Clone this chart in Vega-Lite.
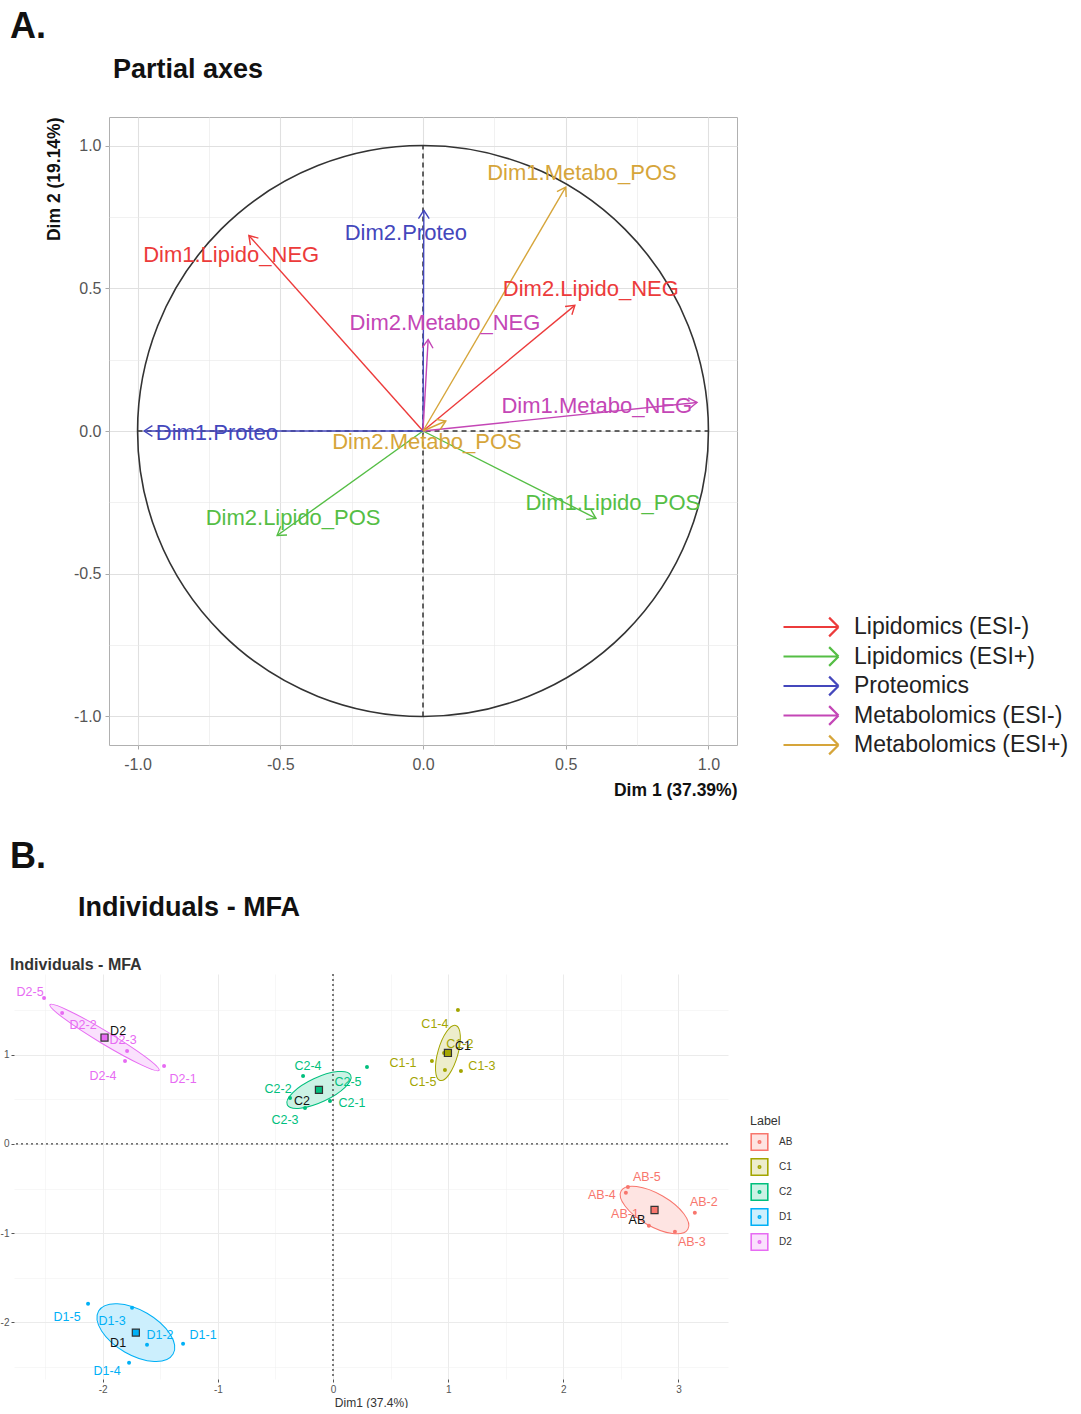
{
  "$schema": "https://vega.github.io/schema/vega-lite/v6.json",
  "padding": {"left": 0, "top": 8, "right": 0, "bottom": 0},
  "spacing": 40,
  "config": {
    "font": "Liberation Sans",
    "view": {"stroke": null},
    "title": {"anchor": "start", "color": "#111", "fontWeight": "bold"}
  },
  "resolve": {"scale": {"x": "independent", "y": "independent", "color": "independent", "fill": "independent", "stroke": "independent"}, "legend": {"color": "independent", "fill": "independent", "stroke": "independent"}},
  "datasets": {
    "axesA": [
      {"name": "Dim1.Lipido_NEG", "grp": "Lipidomics (ESI-)", "x": -0.61, "y": 0.685, "lx": -0.672, "ly": 0.615},
      {"name": "Dim2.Lipido_NEG", "grp": "Lipidomics (ESI-)", "x": 0.532, "y": 0.44, "lx": 0.588, "ly": 0.496},
      {"name": "Dim1.Lipido_POS", "grp": "Lipidomics (ESI+)", "x": 0.606, "y": -0.306, "lx": 0.665, "ly": -0.253},
      {"name": "Dim2.Lipido_POS", "grp": "Lipidomics (ESI+)", "x": -0.511, "y": -0.366, "lx": -0.455, "ly": -0.306},
      {"name": "Dim1.Proteo", "grp": "Proteomics", "x": -0.977, "y": 0.0, "lx": -0.722, "ly": -0.007},
      {"name": "Dim2.Proteo", "grp": "Proteomics", "x": 0.003, "y": 0.773, "lx": -0.06, "ly": 0.692},
      {"name": "Dim1.Metabo_NEG", "grp": "Metabolomics (ESI-)", "x": 0.96, "y": 0.1, "lx": 0.609, "ly": 0.088},
      {"name": "Dim2.Metabo_NEG", "grp": "Metabolomics (ESI-)", "x": 0.018, "y": 0.32, "lx": 0.077, "ly": 0.38},
      {"name": "Dim1.Metabo_POS", "grp": "Metabolomics (ESI+)", "x": 0.5, "y": 0.854, "lx": 0.557, "ly": 0.903},
      {"name": "Dim2.Metabo_POS", "grp": "Metabolomics (ESI+)", "x": 0.08, "y": 0.035, "lx": 0.014, "ly": -0.039}
    ],
    "indiv": [
      {"name": "AB-1", "grp": "AB", "x": 2.743, "y": -0.918, "lx": 2.535, "ly": -0.784},
      {"name": "AB-2", "grp": "AB", "x": 3.142, "y": -0.773, "lx": 3.22, "ly": -0.65},
      {"name": "AB-3", "grp": "AB", "x": 2.969, "y": -0.985, "lx": 3.116, "ly": -1.097},
      {"name": "AB-4", "grp": "AB", "x": 2.543, "y": -0.549, "lx": 2.335, "ly": -0.571},
      {"name": "AB-5", "grp": "AB", "x": 2.561, "y": -0.482, "lx": 2.726, "ly": -0.37},
      {"name": "C1-1", "grp": "C1", "x": 0.859, "y": 0.929, "lx": 0.608, "ly": 0.907},
      {"name": "C1-2", "grp": "C1", "x": 0.964, "y": 1.019, "lx": 1.102, "ly": 1.12},
      {"name": "C1-3", "grp": "C1", "x": 1.111, "y": 0.818, "lx": 1.293, "ly": 0.873},
      {"name": "C1-4", "grp": "C1", "x": 1.085, "y": 1.501, "lx": 0.885, "ly": 1.344},
      {"name": "C1-5", "grp": "C1", "x": 0.972, "y": 0.829, "lx": 0.781, "ly": 0.694},
      {"name": "C2-1", "grp": "C2", "x": -0.026, "y": 0.481, "lx": 0.165, "ly": 0.459},
      {"name": "C2-2", "grp": "C2", "x": -0.373, "y": 0.515, "lx": -0.477, "ly": 0.616},
      {"name": "C2-3", "grp": "C2", "x": -0.243, "y": 0.403, "lx": -0.417, "ly": 0.269},
      {"name": "C2-4", "grp": "C2", "x": -0.26, "y": 0.761, "lx": -0.217, "ly": 0.873},
      {"name": "C2-5", "grp": "C2", "x": 0.295, "y": 0.862, "lx": 0.13, "ly": 0.694},
      {"name": "D1-1", "grp": "D1", "x": -1.302, "y": -2.24, "lx": -1.128, "ly": -2.139},
      {"name": "D1-2", "grp": "D1", "x": -1.615, "y": -2.251, "lx": -1.502, "ly": -2.139},
      {"name": "D1-3", "grp": "D1", "x": -1.745, "y": -1.837, "lx": -1.918, "ly": -1.982},
      {"name": "D1-4", "grp": "D1", "x": -1.771, "y": -2.453, "lx": -1.962, "ly": -2.542},
      {"name": "D1-5", "grp": "D1", "x": -2.127, "y": -1.792, "lx": -2.309, "ly": -1.937},
      {"name": "D2-1", "grp": "D2", "x": -1.467, "y": 0.873, "lx": -1.302, "ly": 0.728},
      {"name": "D2-2", "grp": "D2", "x": -2.352, "y": 1.467, "lx": -2.17, "ly": 1.333},
      {"name": "D2-3", "grp": "D2", "x": -1.788, "y": 1.041, "lx": -1.823, "ly": 1.165},
      {"name": "D2-4", "grp": "D2", "x": -1.806, "y": 0.929, "lx": -1.997, "ly": 0.761},
      {"name": "D2-5", "grp": "D2", "x": -2.509, "y": 1.635, "lx": -2.63, "ly": 1.702}
    ],
    "centroids": [
      {"name": "AB", "grp": "AB", "x": 2.792, "y": -0.741, "lx": 2.639, "ly": -0.851},
      {"name": "C1", "grp": "C1", "x": 0.998, "y": 1.019, "lx": 1.128, "ly": 1.097},
      {"name": "C2", "grp": "C2", "x": -0.122, "y": 0.605, "lx": -0.269, "ly": 0.482},
      {"name": "D1", "grp": "D1", "x": -1.712, "y": -2.115, "lx": -1.866, "ly": -2.228},
      {"name": "D2", "grp": "D2", "x": -1.984, "y": 1.192, "lx": -1.866, "ly": 1.265}
    ]
  },
  "vconcat": [
    {
      "title": {"text": "A.", "fontSize": 36, "frame": "bounds", "dx": -4, "offset": 10},
      "spacing": 0,
      "resolve": {"scale": {"color": "independent", "fill": "independent", "stroke": "independent"}, "legend": {"color": "independent"}},
      "hconcat": [
        {
          "width": 30,
          "height": 10,
          "data": {"values": []},
          "mark": "point"
        },
        {
          "title": {"text": "Partial axes", "fontSize": 27, "frame": "group", "dx": 4, "offset": 33},
          "width": 628,
          "height": 628,
          "view": {"stroke": "#b0b0b0"},
          "resolve": {"axis": {"x": "independent", "y": "independent"}},
          "layer": [
            {
              "data": {"values": [{"x": 0, "y": 0}]},
              "mark": {"type": "point", "shape": "circle", "size": 325900, "filled": false, "stroke": "#333", "strokeWidth": 1.6, "opacity": 1},
              "encoding": {
                "x": {"field": "x", "type": "quantitative", "scale": {"domain": [-1.1, 1.1], "nice": false, "zero": false},
                  "axis": {"orient": "bottom", "title": "Dim 1 (37.39%)", "titleAnchor": "end", "titleFontSize": 17.5, "titleFontWeight": "bold", "titleColor": "#111", "titlePadding": 9,
                    "values": [-1, -0.5, 0, 0.5, 1],
                    "labelExpr": "replace(format(datum.value, '.1f'), '\u2212', '-')",
                    "labelFontSize": 16, "labelColor": "#555", "labelPadding": 7, "domain": false, "tickColor": "#aaa", "tickSize": 4,
                    "grid": true, "gridColor": "#e0e0e0", "gridWidth": 1.1, "zindex": 0}},
                "y": {"field": "y", "type": "quantitative", "scale": {"domain": [-1.1, 1.1], "nice": false, "zero": false},
                  "axis": {"orient": "left", "title": "Dim 2 (19.14%)", "titleAnchor": "end", "titleFontSize": 17.5, "titleFontWeight": "bold", "titleColor": "#111", "titlePadding": 10,
                    "values": [-1, -0.5, 0, 0.5, 1],
                    "labelExpr": "replace(format(datum.value, '.1f'), '\u2212', '-')",
                    "labelFontSize": 16, "labelColor": "#555", "labelPadding": 4, "domain": false, "tickColor": "#aaa", "tickSize": 4,
                    "grid": true, "gridColor": "#e0e0e0", "gridWidth": 1.1, "zindex": 0}}
              }
            },
            {
              "data": {"values": [{"x": 0, "y": -1, "y2": 1}]},
              "mark": {"type": "rule", "strokeDash": [5, 4], "color": "#333", "strokeWidth": 1.5},
              "encoding": {
                "x": {"field": "x", "type": "quantitative", "scale": {"domain": [-1.1, 1.1], "nice": false, "zero": false},
                  "axis": {"orient": "bottom", "title": null, "values": [-0.75, -0.25, 0.25, 0.75], "labels": false, "ticks": false, "domain": false, "grid": true, "gridColor": "#e8e8e8", "gridWidth": 0.6, "zindex": 0}},
                "y": {"field": "y", "type": "quantitative", "scale": {"domain": [-1.1, 1.1], "nice": false, "zero": false},
                  "axis": {"orient": "left", "title": null, "values": [-0.75, -0.25, 0.25, 0.75], "labels": false, "ticks": false, "domain": false, "grid": true, "gridColor": "#e8e8e8", "gridWidth": 0.6, "zindex": 0}},
                "y2": {"field": "y2"}
              }
            },
            {
              "data": {"values": [{"x": -1, "x2": 1, "y": 0}]},
              "mark": {"type": "rule", "strokeDash": [5, 4], "color": "#333", "strokeWidth": 1.5},
              "encoding": {
                "x": {"field": "x", "type": "quantitative", "scale": {"domain": [-1.1, 1.1], "nice": false, "zero": false}, "axis": null},
                "x2": {"field": "x2"},
                "y": {"field": "y", "type": "quantitative", "scale": {"domain": [-1.1, 1.1], "nice": false, "zero": false}, "axis": null}
              }
            },
            {
              "data": {"name": "axesA"},
              "mark": {"type": "rule", "strokeWidth": 1.4},
              "encoding": {
                "x": {"field": "x", "type": "quantitative", "scale": {"domain": [-1.1, 1.1], "nice": false, "zero": false}, "axis": null},
                "y": {"field": "y", "type": "quantitative", "scale": {"domain": [-1.1, 1.1], "nice": false, "zero": false}, "axis": null},
                "x2": {"datum": 0},
                "y2": {"datum": 0},
                "color": {"field": "grp", "type": "nominal",
                  "scale": {"domain": ["Lipidomics (ESI-)", "Lipidomics (ESI+)", "Proteomics", "Metabolomics (ESI-)", "Metabolomics (ESI+)"], "range": ["#EC3B3B", "#55BE45", "#4447BC", "#C446B6", "#D6A53A"]},
                  "legend": {"title": null, "orient": "none", "legendX": 688, "legendY": 496, "symbolType": "M-2.2,0L2.2,0M1.45,-0.75L2.2,0M2.2,0L1.45,0.75", "symbolSize": 625, "symbolStrokeWidth": 2.2, "symbolFillColor": "transparent", "labelFontSize": 23, "labelColor": "#222", "labelOffset": 29, "rowPadding": 1.5, "labelLimit": 400}}
              }
            },
            {
              "data": {"name": "axesA"},
              "transform": [{"calculate": "atan2(datum.x, datum.y) * 180 / PI", "as": "ang"}],
              "mark": {"type": "point", "shape": "M-0.55,0.85L0,0L0.55,0.85", "filled": false, "size": 380, "strokeWidth": 1.4, "opacity": 1},
              "encoding": {
                "x": {"field": "x", "type": "quantitative", "scale": {"domain": [-1.1, 1.1], "nice": false, "zero": false}, "axis": null},
                "y": {"field": "y", "type": "quantitative", "scale": {"domain": [-1.1, 1.1], "nice": false, "zero": false}, "axis": null},
                "angle": {"field": "ang", "type": "quantitative", "scale": null},
                "color": {"field": "grp", "type": "nominal", "legend": null}
              }
            },
            {
              "data": {"name": "axesA"},
              "mark": {"type": "text", "fontSize": 22, "align": "center", "baseline": "middle"},
              "encoding": {
                "x": {"field": "lx", "type": "quantitative", "scale": {"domain": [-1.1, 1.1], "nice": false, "zero": false}, "axis": null},
                "y": {"field": "ly", "type": "quantitative", "scale": {"domain": [-1.1, 1.1], "nice": false, "zero": false}, "axis": null},
                "text": {"field": "name"},
                "color": {"field": "grp", "type": "nominal", "legend": null}
              }
            }
          ]
        }
      ]
    },
    {
      "title": {"text": "B.", "fontSize": 36, "frame": "bounds", "dx": 10, "offset": 18},
      "resolve": {"scale": {"color": "independent", "fill": "independent", "stroke": "independent"}, "legend": {"color": "independent", "fill": "independent", "stroke": "independent"}},
      "vconcat": [
        {
          "title": {"text": "Individuals - MFA", "fontSize": 27, "frame": "bounds", "dx": 78, "offset": 35},
          "resolve": {"scale": {"color": "independent", "fill": "independent", "stroke": "independent"}, "legend": {"color": "independent", "fill": "independent", "stroke": "independent"}},
          "vconcat": [
            {
              "title": {"text": "Individuals - MFA", "fontSize": 16, "color": "#333", "frame": "bounds", "dx": 10, "offset": 0},
              "width": 714,
              "height": 405,
              "resolve": {"axis": {"x": "independent", "y": "independent"}},
              "layer": [
                {
                  "data": {"name": "centroids"},
                  "transform": [{"filter": "datum.grp == 'D2'"}],
                  "mark": {"type": "point", "shape": "M1,0C1,0.055 0.5523,0.1 0,0.1C-0.5523,0.1 -1,0.055 -1,0C-1,-0.055 -0.5523,-0.1 0,-0.1C0.5523,-0.1 1,-0.055 1,0Z", "size": 16231, "angle": 31, "filled": true, "fillOpacity": 1, "strokeWidth": 1, "opacity": 1},
                  "encoding": {
                    "x": {"field": "x", "type": "quantitative", "scale": {"domain": [-2.77, 3.43], "nice": false, "zero": false},
                      "axis": {"orient": "bottom", "title": null, "values": [-2.5, -1.5, -0.5, 0.5, 1.5, 2.5], "labels": false, "ticks": false, "domain": false, "grid": true, "gridColor": "#efefef", "gridWidth": 0.5, "zindex": 0}},
                    "y": {"field": "y", "type": "quantitative", "scale": {"domain": [-2.635, 1.904], "nice": false, "zero": false},
                      "axis": {"orient": "left", "title": null, "values": [-2.5, -1.5, -0.5, 0.5, 1.5], "labels": false, "ticks": false, "domain": false, "grid": true, "gridColor": "#efefef", "gridWidth": 0.5, "zindex": 0}},
                    "fill": {"field": "grp", "type": "nominal", "scale": {"domain": ["AB", "C1", "C2", "D1", "D2"], "range": ["#FEE4E2", "#EDEDCC", "#CCF2E5", "#CCEFFD", "#FAE1FD"]}, "legend": {"title": "Label", "orient": "none", "legendX": 736, "legendY": 141, "symbolType": "M-1,-1L1,-1L1,1L-1,1Z M0.15,0C0.15,0.083 0.083,0.15 0,0.15C-0.083,0.15 -0.15,0.083 -0.15,0C-0.15,-0.083 -0.083,-0.15 0,-0.15C0.083,-0.15 0.15,-0.083 0.15,0Z", "symbolSize": 276, "symbolStrokeWidth": 1.6, "titleFontSize": 12.5, "titleFontWeight": "normal", "titleColor": "#333", "labelFontSize": 10, "labelColor": "#333", "labelOffset": 10, "rowPadding": 0}},
                    "stroke": {"field": "grp", "type": "nominal", "scale": {"domain": ["AB", "C1", "C2", "D1", "D2"], "range": ["#F8766D", "#A3A500", "#00BF7D", "#00B0F6", "#E76BF3"]}, "legend": {"title": "Label", "orient": "none", "legendX": 736, "legendY": 141, "symbolType": "M-1,-1L1,-1L1,1L-1,1Z M0.15,0C0.15,0.083 0.083,0.15 0,0.15C-0.083,0.15 -0.15,0.083 -0.15,0C-0.15,-0.083 -0.083,-0.15 0,-0.15C0.083,-0.15 0.15,-0.083 0.15,0Z", "symbolSize": 276, "symbolStrokeWidth": 1.6, "titleFontSize": 12.5, "titleFontWeight": "normal", "titleColor": "#333", "labelFontSize": 10, "labelColor": "#333", "labelOffset": 10, "rowPadding": 0}}
                  }
                },
                {
                  "data": {"name": "centroids"},
                  "transform": [{"filter": "datum.grp == 'C2'"}],
                  "mark": {"type": "point", "shape": "M1,0C1,0.193 0.5523,0.35 0,0.35C-0.5523,0.35 -1,0.193 -1,0C-1,-0.193 -0.5523,-0.35 0,-0.35C0.5523,-0.35 1,-0.193 1,0Z", "size": 4900, "angle": 335, "filled": true, "fillOpacity": 1, "strokeWidth": 1, "opacity": 1},
                  "encoding": {
                    "x": {"field": "x", "type": "quantitative", "scale": {"domain": [-2.77, 3.43], "nice": false, "zero": false}, "axis": null},
                    "y": {"field": "y", "type": "quantitative", "scale": {"domain": [-2.635, 1.904], "nice": false, "zero": false}, "axis": null},
                    "fill": {"field": "grp", "type": "nominal", "legend": {"title": "Label", "orient": "none", "legendX": 736, "legendY": 141, "symbolType": "M-1,-1L1,-1L1,1L-1,1Z M0.15,0C0.15,0.083 0.083,0.15 0,0.15C-0.083,0.15 -0.15,0.083 -0.15,0C-0.15,-0.083 -0.083,-0.15 0,-0.15C0.083,-0.15 0.15,-0.083 0.15,0Z", "symbolSize": 276, "symbolStrokeWidth": 1.6, "titleFontSize": 12.5, "titleFontWeight": "normal", "titleColor": "#333", "labelFontSize": 10, "labelColor": "#333", "labelOffset": 10, "rowPadding": 0}},
                    "stroke": {"field": "grp", "type": "nominal", "legend": {"title": "Label", "orient": "none", "legendX": 736, "legendY": 141, "symbolType": "M-1,-1L1,-1L1,1L-1,1Z M0.15,0C0.15,0.083 0.083,0.15 0,0.15C-0.083,0.15 -0.15,0.083 -0.15,0C-0.15,-0.083 -0.083,-0.15 0,-0.15C0.083,-0.15 0.15,-0.083 0.15,0Z", "symbolSize": 276, "symbolStrokeWidth": 1.6, "titleFontSize": 12.5, "titleFontWeight": "normal", "titleColor": "#333", "labelFontSize": 10, "labelColor": "#333", "labelOffset": 10, "rowPadding": 0}}
                  }
                },
                {
                  "data": {"name": "centroids"},
                  "transform": [{"filter": "datum.grp == 'C1'"}],
                  "mark": {"type": "point", "shape": "M1,0C1,0.193 0.5523,0.35 0,0.35C-0.5523,0.35 -1,0.193 -1,0C-1,-0.193 -0.5523,-0.35 0,-0.35C0.5523,-0.35 1,-0.193 1,0Z", "size": 3272, "angle": 106, "filled": true, "fillOpacity": 1, "strokeWidth": 1, "opacity": 1},
                  "encoding": {
                    "x": {"field": "x", "type": "quantitative", "scale": {"domain": [-2.77, 3.43], "nice": false, "zero": false}, "axis": null},
                    "y": {"field": "y", "type": "quantitative", "scale": {"domain": [-2.635, 1.904], "nice": false, "zero": false}, "axis": null},
                    "fill": {"field": "grp", "type": "nominal", "legend": {"title": "Label", "orient": "none", "legendX": 736, "legendY": 141, "symbolType": "M-1,-1L1,-1L1,1L-1,1Z M0.15,0C0.15,0.083 0.083,0.15 0,0.15C-0.083,0.15 -0.15,0.083 -0.15,0C-0.15,-0.083 -0.083,-0.15 0,-0.15C0.083,-0.15 0.15,-0.083 0.15,0Z", "symbolSize": 276, "symbolStrokeWidth": 1.6, "titleFontSize": 12.5, "titleFontWeight": "normal", "titleColor": "#333", "labelFontSize": 10, "labelColor": "#333", "labelOffset": 10, "rowPadding": 0}},
                    "stroke": {"field": "grp", "type": "nominal", "legend": {"title": "Label", "orient": "none", "legendX": 736, "legendY": 141, "symbolType": "M-1,-1L1,-1L1,1L-1,1Z M0.15,0C0.15,0.083 0.083,0.15 0,0.15C-0.083,0.15 -0.15,0.083 -0.15,0C-0.15,-0.083 -0.083,-0.15 0,-0.15C0.083,-0.15 0.15,-0.083 0.15,0Z", "symbolSize": 276, "symbolStrokeWidth": 1.6, "titleFontSize": 12.5, "titleFontWeight": "normal", "titleColor": "#333", "labelFontSize": 10, "labelColor": "#333", "labelOffset": 10, "rowPadding": 0}}
                  }
                },
                {
                  "data": {"name": "centroids"},
                  "transform": [{"filter": "datum.grp == 'AB'"}],
                  "mark": {"type": "point", "shape": "M1,0C1,0.232 0.5523,0.42 0,0.42C-0.5523,0.42 -1,0.232 -1,0C-1,-0.232 -0.5523,-0.42 0,-0.42C0.5523,-0.42 1,-0.232 1,0Z", "size": 5929, "angle": 30, "filled": true, "fillOpacity": 1, "strokeWidth": 1, "opacity": 1},
                  "encoding": {
                    "x": {"field": "x", "type": "quantitative", "scale": {"domain": [-2.77, 3.43], "nice": false, "zero": false}, "axis": null},
                    "y": {"field": "y", "type": "quantitative", "scale": {"domain": [-2.635, 1.904], "nice": false, "zero": false}, "axis": null},
                    "fill": {"field": "grp", "type": "nominal", "legend": {"title": "Label", "orient": "none", "legendX": 736, "legendY": 141, "symbolType": "M-1,-1L1,-1L1,1L-1,1Z M0.15,0C0.15,0.083 0.083,0.15 0,0.15C-0.083,0.15 -0.15,0.083 -0.15,0C-0.15,-0.083 -0.083,-0.15 0,-0.15C0.083,-0.15 0.15,-0.083 0.15,0Z", "symbolSize": 276, "symbolStrokeWidth": 1.6, "titleFontSize": 12.5, "titleFontWeight": "normal", "titleColor": "#333", "labelFontSize": 10, "labelColor": "#333", "labelOffset": 10, "rowPadding": 0}},
                    "stroke": {"field": "grp", "type": "nominal", "legend": {"title": "Label", "orient": "none", "legendX": 736, "legendY": 141, "symbolType": "M-1,-1L1,-1L1,1L-1,1Z M0.15,0C0.15,0.083 0.083,0.15 0,0.15C-0.083,0.15 -0.15,0.083 -0.15,0C-0.15,-0.083 -0.083,-0.15 0,-0.15C0.083,-0.15 0.15,-0.083 0.15,0Z", "symbolSize": 276, "symbolStrokeWidth": 1.6, "titleFontSize": 12.5, "titleFontWeight": "normal", "titleColor": "#333", "labelFontSize": 10, "labelColor": "#333", "labelOffset": 10, "rowPadding": 0}}
                  }
                },
                {
                  "data": {"name": "centroids"},
                  "transform": [{"filter": "datum.grp == 'D1'"}],
                  "mark": {"type": "point", "shape": "M1,0C1,0.287 0.5523,0.52 0,0.52C-0.5523,0.52 -1,0.287 -1,0C-1,-0.287 -0.5523,-0.52 0,-0.52C0.5523,-0.52 1,-0.287 1,0Z", "size": 7396, "angle": 30, "filled": true, "fillOpacity": 1, "strokeWidth": 1, "opacity": 1},
                  "encoding": {
                    "x": {"field": "x", "type": "quantitative", "scale": {"domain": [-2.77, 3.43], "nice": false, "zero": false}, "axis": null},
                    "y": {"field": "y", "type": "quantitative", "scale": {"domain": [-2.635, 1.904], "nice": false, "zero": false}, "axis": null},
                    "fill": {"field": "grp", "type": "nominal", "legend": {"title": "Label", "orient": "none", "legendX": 736, "legendY": 141, "symbolType": "M-1,-1L1,-1L1,1L-1,1Z M0.15,0C0.15,0.083 0.083,0.15 0,0.15C-0.083,0.15 -0.15,0.083 -0.15,0C-0.15,-0.083 -0.083,-0.15 0,-0.15C0.083,-0.15 0.15,-0.083 0.15,0Z", "symbolSize": 276, "symbolStrokeWidth": 1.6, "titleFontSize": 12.5, "titleFontWeight": "normal", "titleColor": "#333", "labelFontSize": 10, "labelColor": "#333", "labelOffset": 10, "rowPadding": 0}},
                    "stroke": {"field": "grp", "type": "nominal", "legend": {"title": "Label", "orient": "none", "legendX": 736, "legendY": 141, "symbolType": "M-1,-1L1,-1L1,1L-1,1Z M0.15,0C0.15,0.083 0.083,0.15 0,0.15C-0.083,0.15 -0.15,0.083 -0.15,0C-0.15,-0.083 -0.083,-0.15 0,-0.15C0.083,-0.15 0.15,-0.083 0.15,0Z", "symbolSize": 276, "symbolStrokeWidth": 1.6, "titleFontSize": 12.5, "titleFontWeight": "normal", "titleColor": "#333", "labelFontSize": 10, "labelColor": "#333", "labelOffset": 10, "rowPadding": 0}}
                  }
                },
                {
                  "data": {"values": [{"x": 0}]},
                  "mark": {"type": "rule", "strokeDash": [2, 3], "color": "#444", "strokeWidth": 1.4},
                  "encoding": {
                    "x": {"field": "x", "type": "quantitative", "scale": {"domain": [-2.77, 3.43], "nice": false, "zero": false},
                      "axis": {"orient": "bottom", "title": "Dim1 (37.4%)", "titleFontSize": 12, "titleFontWeight": "normal", "titleColor": "#333", "titlePadding": 3,
                        "values": [-2, -1, 0, 1, 2, 3],
                        "labelExpr": "'' + datum.value",
                        "labelFontSize": 10, "labelColor": "#555", "labelPadding": 2, "domain": false, "tickColor": "#555", "tickSize": 3,
                        "grid": true, "gridColor": "#ebebeb", "gridWidth": 1, "zindex": 0}}
                  }
                },
                {
                  "data": {"values": [{"y": 0}]},
                  "mark": {"type": "rule", "strokeDash": [2, 3], "color": "#444", "strokeWidth": 1.4},
                  "encoding": {
                    "y": {"field": "y", "type": "quantitative", "scale": {"domain": [-2.635, 1.904], "nice": false, "zero": false},
                      "axis": {"orient": "left", "title": null,
                        "values": [-2, -1, 0, 1],
                        "labelExpr": "'' + datum.value",
                        "labelFontSize": 10, "labelColor": "#555", "labelPadding": 2, "domain": false, "tickColor": "#555", "tickSize": 3,
                        "grid": true, "gridColor": "#ebebeb", "gridWidth": 1, "zindex": 0}}
                  }
                },
                {
                  "data": {"name": "indiv"},
                  "mark": {"type": "point", "shape": "circle", "filled": true, "size": 16, "opacity": 1, "strokeWidth": 0},
                  "encoding": {
                    "x": {"field": "x", "type": "quantitative", "scale": {"domain": [-2.77, 3.43], "nice": false, "zero": false}, "axis": null},
                    "y": {"field": "y", "type": "quantitative", "scale": {"domain": [-2.635, 1.904], "nice": false, "zero": false}, "axis": null},
                    "color": {"field": "grp", "type": "nominal", "scale": {"range": ["#F8766D", "#A3A500", "#00BF7D", "#00B0F6", "#E76BF3"]}, "legend": null}
                  }
                },
                {
                  "data": {"name": "centroids"},
                  "mark": {"type": "point", "shape": "square", "filled": true, "size": 50, "stroke": "#333", "strokeWidth": 1.2, "opacity": 1},
                  "encoding": {
                    "x": {"field": "x", "type": "quantitative", "scale": {"domain": [-2.77, 3.43], "nice": false, "zero": false}, "axis": null},
                    "y": {"field": "y", "type": "quantitative", "scale": {"domain": [-2.635, 1.904], "nice": false, "zero": false}, "axis": null},
                    "color": {"field": "grp", "type": "nominal", "legend": null}
                  }
                },
                {
                  "data": {"name": "indiv"},
                  "mark": {"type": "text", "fontSize": 12.5, "align": "center", "baseline": "middle"},
                  "encoding": {
                    "x": {"field": "lx", "type": "quantitative", "scale": {"domain": [-2.77, 3.43], "nice": false, "zero": false}, "axis": null},
                    "y": {"field": "ly", "type": "quantitative", "scale": {"domain": [-2.635, 1.904], "nice": false, "zero": false}, "axis": null},
                    "text": {"field": "name"},
                    "color": {"field": "grp", "type": "nominal", "legend": null}
                  }
                },
                {
                  "data": {"name": "centroids"},
                  "mark": {"type": "text", "fontSize": 12.5, "align": "center", "baseline": "middle", "color": "#111"},
                  "encoding": {
                    "x": {"field": "lx", "type": "quantitative", "scale": {"domain": [-2.77, 3.43], "nice": false, "zero": false}, "axis": null},
                    "y": {"field": "ly", "type": "quantitative", "scale": {"domain": [-2.635, 1.904], "nice": false, "zero": false}, "axis": null},
                    "text": {"field": "name"}
                  }
                }
              ]
            }
          ]
        }
      ]
    }
  ]
}
